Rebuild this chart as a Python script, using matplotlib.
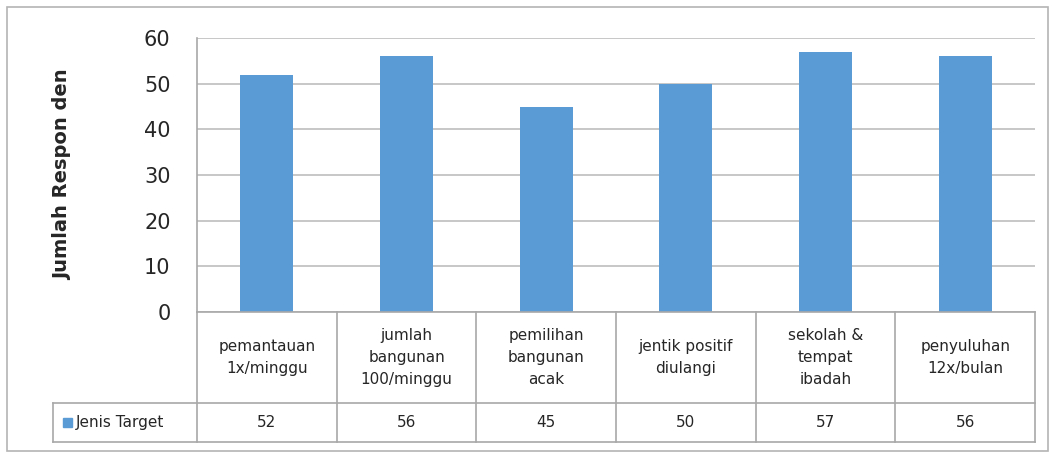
"""Bar chart of respondents per target type, with an Excel-style data table."""

import matplotlib

matplotlib.use("Agg")
import matplotlib.pyplot as plt  # noqa: E402
import numpy as np  # noqa: E402

categories = [
    "pemantauan\n1x/minggu",
    "jumlah\nbangunan\n100/minggu",
    "pemilihan\nbangunan\nacak",
    "jentik positif\ndiulangi",
    "sekolah &\ntempat\nibadah",
    "penyuluhan\n12x/bulan",
]
values = [52, 56, 45, 50, 57, 56]
series_name = "Jenis Target"
y_ticks = [0, 10, 20, 30, 40, 50, 60]

BAR = "#5b9bd5"
GRID = "#c3c3c3"
LINE = "#a8a8a8"
TEXT = "#262626"

W, H = 1055, 453
plt.rcParams["font.family"] = ["DejaVu Sans"]


def fx(px):
    return px / W


def fy(py):
    return 1 - py / H


fig = plt.figure(figsize=(W / 100, H / 100), dpi=100)

# outer chart border
fig.patches.append(plt.Rectangle((fx(7), fy(451)), fx(1048) - fx(7), fy(7) - fy(451),
                                 transform=fig.transFigure, fill=False,
                                 edgecolor="#b4b4b4", linewidth=1.2))

left, right, top, bottom = 197, 1035, 38, 312
ax = fig.add_axes([fx(left), fy(bottom), fx(right) - fx(left), fy(top) - fy(bottom)])
x = np.arange(len(values))
ax.bar(x, values, width=0.38, color=BAR, zorder=3)
ax.set_xlim(-0.5, len(values) - 0.5)
ax.set_ylim(0, 60)
ax.set_yticks(y_ticks)
ax.set_yticklabels([str(t) for t in y_ticks], fontsize=15, color=TEXT)
ax.set_xticks([])
ax.yaxis.grid(True, color=GRID, linewidth=1.3, zorder=0)
ax.tick_params(axis="y", length=0, pad=19)
for side in ("top", "right", "bottom"):
    ax.spines[side].set_visible(False)
ax.spines["left"].set_color(LINE)
ax.spines["left"].set_linewidth(1.2)
ax.set_ylabel("Jumlah Respon den", fontsize=14, fontweight="bold", color=TEXT, labelpad=52)

# data table under the axis
t_left, t_mid, t_bottom = 53, 403, 442
tab = fig.add_axes([fx(t_left), fy(t_bottom), fx(right) - fx(t_left), fy(bottom) - fy(t_bottom)])
unit = (right - left) / len(values)
x0 = -0.5 - (left - t_left) / unit
tab.set_xlim(x0, len(values) - 0.5)
tab.set_ylim(t_bottom, bottom)
tab.axis("off")

lw = 1.2
tab.plot([-0.5, len(values) - 0.5], [bottom, bottom], color=LINE, lw=lw, clip_on=False)
tab.plot([x0, len(values) - 0.5], [t_mid, t_mid], color=LINE, lw=lw, clip_on=False)
tab.plot([x0, len(values) - 0.5], [t_bottom, t_bottom], color=LINE, lw=lw, clip_on=False)
tab.plot([x0, x0], [t_mid, t_bottom], color=LINE, lw=lw, clip_on=False)
for i in range(len(values) + 1):
    tab.plot([i - 0.5, i - 0.5], [bottom, t_bottom], color=LINE, lw=lw, clip_on=False)

for i, (cat, val) in enumerate(zip(categories, values)):
    tab.text(i, (bottom + t_mid) / 2, cat, ha="center", va="center", fontsize=11,
             color=TEXT, linespacing=1.6)
    tab.text(i, (t_mid + t_bottom) / 2, str(val), ha="center", va="center",
             fontsize=11, color=TEXT)

# legend key inside the table
key_x = x0 + 10 / unit
tab.add_patch(plt.Rectangle((key_x, 427), 9 / unit, -9, color=BAR))
tab.text(key_x + 13 / unit, (t_mid + t_bottom) / 2, series_name, ha="left", va="center",
         fontsize=11, color=TEXT)

fig.savefig("out.png", dpi=100)
plt.close(fig)
